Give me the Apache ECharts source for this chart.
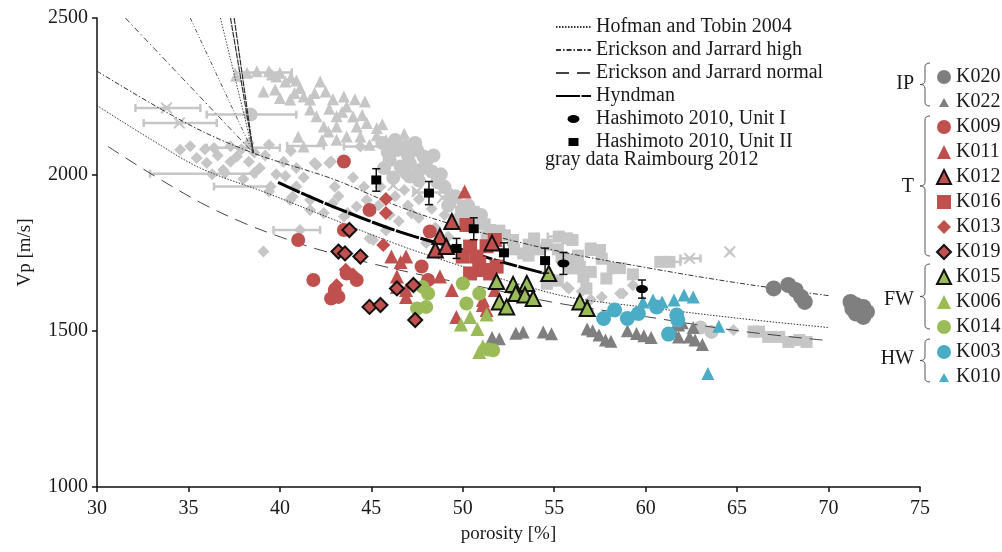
<!DOCTYPE html>
<html><head><meta charset="utf-8">
<script src="https://cdn.jsdelivr.net/npm/echarts@6/dist/echarts.min.js"></script>
<style>html,body{margin:0;padding:0;background:#fff}#c{width:1002px;height:552px}</style>
</head><body><div id="c"></div>
<script>
// ---------- axes ----------
const xRange = [30, 75, 5];
const yRange = [1000, 2500, 500];

// ---------- model curves ----------
const hofmanTobin = [[30,2220],[33,2110],[35.65,2020],[39.3,1940],[42.9,1856],[46.6,1772],[50,1705],[53,1650],[56,1605],[60,1575],[65,1540],[70,1510]];
const ericksonHigh = [[30,2330],[35,2160],[38.55,2068],[42.9,1985],[46.6,1895],[50,1830],[55,1757],[60,1702],[65,1653],[70,1612]];
const ericksonNormal = [[30.6,2089],[33,2000],[35.65,1910],[38,1845],[40.4,1792],[42.2,1758],[45,1715],[48,1675],[51,1640],[55,1590],[60,1545],[65,1500],[70,1468]];
const hyndman = [[39.9,1974],[42.9,1897],[46.6,1815],[50,1758],[52,1722],[55,1675]];
// low-porosity branches converging near 38.5 %
const branchA = [[31.55,2500],[38.55,2068]];
const branchB = [[35.1,2500],[38.55,2068]];
const branchC = [[36.75,2500],[38.55,2068]];
const branchD = [[37.3,2500],[38.55,2068]];
const branchE = [[37.5,2500],[38.55,2068]];

// ---------- Hashimoto 2010 ----------
const hashUnitI = [[55.5,1715],[59.8,1633]];
const hashUnitIErr = [35,29];
const hashUnitII = [[45.27,1982],[48.15,1940],[50.6,1826],[49.66,1763],[52.25,1749],[54.5,1724]];
const hashUnitIIErr = [36,37,35,32,32,40];

// ---------- gray data Raimbourg 2012 ----------
const grayTri = [[38.74,2330],[39.56,2319],[39.8,2313],[40.3,2297],[39.1,2265],[39.74,2271],[40.0,2244],[40.56,2239],[41.1,2276],[41.3,2249],[41.65,2239],[42.2,2297],[42.5,2265],[41.65,2207],[42.0,2186],[42.4,2153],[42.65,2137],[43.1,2186],[43.1,2153],[43.5,2249],[43.65,2217],[44.0,2185],[44.2,2153],[44.4,2121],[44.65,2233],[44.75,2164],[45.3,2148],[45.3,2125],[43.1,2111],[43.65,2121],[41.3,2089],[38.2,2325],[37.6,2315],[40.9,2300],[45.8,2110],[46.4,2090],[41.0,2120],[42.3,2110],[44.9,2095],[39.4,2330],[40.0,2325],[40.6,2310],[42.9,2240],[43.4,2200],[44.1,2240],[45.6,2160],[42.7,2210],[44.5,2190],[46.8,2130],[40.8,2260],[41.9,2260]];
const grayDia = [[34.55,2079],[35.45,2052],[36.0,2036],[36.4,2084],[36.9,2014],[37.65,2057],[37.0,2004],[37.9,2080],[38.3,2040],[38.6,2070],[38.9,2020],[39.2,2060],[39.5,1961],[39.4,1945],[39.8,2000],[40.2,2040],[40.6,2075],[40.9,2020],[41.3,1990],[37.3,2090],[38.0,1985],[36.6,2060],[35.9,2080],[40.56,1918],[40.9,1961],[41.65,1918],[42.0,2030],[42.7,2036],[41.9,2036],[42.8,2041],[42.4,1876],[42.9,1908],[43.5,1865],[43.7,1876],[44.2,1897],[44.75,1918],[44.9,1795],[45.1,1790],[39.1,1753],[40.7,1929],[41.65,1886],[43.0,1960],[44.0,1990],[45.5,1960],[46.3,1930],[47.0,1900],[47.6,1860],[46.5,1850],[45.8,1820],[44.4,2089],[48.5,1830],[49.2,1800],[48.0,1780],[55.8,1635],[57.6,1608],[58.6,1619],[64.8,1502],[41.1,1822],[38.6,2004],[46.8,1950],[47.6,1920],[48.3,1890],[49.0,1870],[47.2,1875],[55.7,1640],[56.5,1625],[58.75,1619],[59.3,1645],[57.0,1600],[44.6,1960],[45.4,1900],[46.0,1870],[43.2,1930],[38.3,2100],[39.4,2095],[37.3,2040],[40.3,1995],[36.3,2000],[35.1,2090]];
const grayCirc = [[46.0,2094],[46.4,2078],[46.9,2089],[47.5,2078],[47.85,2057],[47.1,2036],[47.65,2014],[48.3,2009],[46.0,2046],[46.6,2025],[47.1,1993],[49.0,1960],[49.6,1930],[50.3,1900],[48.6,1975],[49.2,1900],[51.0,1870],[50.0,1860],[38.4,2191],[63.6,1496],[63.0,1510],[45.6,2100],[45.9,2070],[46.3,2110],[47.0,2060],[47.4,2100],[48.0,2040],[48.4,2060],[45.7,2020],[46.2,1990],[48.8,2000],[47.6,1980],[46.9,2005]];
const graySq = [[49.4,1925],[50.0,1900],[50.6,1880],[51.0,1860],[49.8,1855],[51.3,1801],[52.0,1820],[52.75,1790],[53.3,1747],[53.6,1775],[54.2,1760],[55.7,1795],[55.25,1801],[57.0,1758],[57.5,1758],[56.0,1726],[56.4,1705],[55.84,1705],[56.0,1699],[56.6,1672],[57.0,1688],[57.85,1667],[56.76,1635],[55.2,1660],[54.6,1650],[61.3,1720],[60.8,1720],[65.9,1497],[66.2,1497],[66.7,1480],[67.3,1480],[67.8,1464],[68.4,1470],[68.8,1464],[58.6,1700],[59.3,1680],[49.3,1915],[49.9,1880],[50.4,1860],[51.2,1840],[51.5,1822],[52.3,1805],[52.8,1760],[53.6,1740],[53.9,1795],[54.6,1775],[55.2,1760],[56.0,1790],[57.0,1763],[56.3,1740],[55.4,1735],[57.6,1730],[58.2,1700]];
const grayX = [[33.8,2212],[34.5,2164],[62.4,1731],[64.6,1752],[47.5,1945],[48.9,1925],[46.2,1965],[50.1,1860],[52.0,1780]];
const grayHBars = [[32.1,35.65,2212],[32.55,36.55,2164],[36.0,40.9,2191],[37.55,40.65,2326],[32.9,38.7,2002],[36.4,39.5,1961],[40.4,42.4,2091],[43.5,46.0,2089],[39.65,42.2,1822],[36.0,40.0,2085],[47.3,49.4,1942],[54.65,55.85,1801],[60.8,61.9,1720],[61.9,63.0,1731]];

// ---------- samples ----------
const K020 = [[67.0,1635],[67.8,1646],[68.2,1630],[68.5,1608],[68.7,1592],[71.2,1592],[71.5,1582],[71.9,1576],[71.9,1544],[71.5,1555],[72.1,1560],[71.3,1570]];
const K022 = [[51.6,1478],[52.0,1474],[52.9,1492],[53.3,1496],[54.4,1496],[54.85,1490],[56.8,1505],[57.1,1500],[57.45,1486],[57.8,1470],[58.1,1466],[59.0,1500],[59.5,1491],[59.9,1484],[60.3,1478],[61.8,1518],[61.8,1480],[62.0,1525],[62.4,1480],[62.6,1510],[62.7,1470],[63.1,1456],[61.5,1498]];
const K009 = [[43.5,2041],[44.9,1886],[48.2,1817],[41.0,1790],[43.5,1822],[41.83,1662],[42.8,1603],[44.2,1662],[43.65,1683],[47.75,1705],[48.1,1662],[43.0,1630],[43.2,1608]];
const K011 = [[50.1,1945],[46.1,1737],[46.6,1720],[46.9,1737],[46.4,1673],[46.4,1640],[46.9,1630],[46.9,1608],[48.75,1673],[49.4,1630],[49.65,1544],[51.1,1582],[51.75,1630],[51.1,1598],[51.3,1566]];
const K012 = [[49.4,1849],[48.75,1801],[48.5,1758],[49.1,1769],[51.6,1780]];
const K016 = [[50.2,1838],[51.75,1790],[50.4,1769],[50.75,1737],[50.4,1683],[51.1,1694],[51.5,1683],[51.85,1705],[50.0,1737],[50.9,1715],[51.3,1770]];
const K013 = [[45.8,1921],[45.8,1876],[45.65,1774],[43.6,1695],[44.0,1680],[43.1,1645]];
const K019 = [[43.8,1822],[43.2,1753],[43.56,1747],[44.4,1737],[46.4,1635],[47.3,1646],[44.9,1576],[45.5,1582],[47.4,1534]];
const K015 = [[51.85,1657],[52.75,1648],[53.5,1651],[52.9,1619],[53.4,1614],[53.85,1603],[52.0,1592],[52.4,1576],[54.7,1683],[56.4,1592],[56.8,1571]];
const K006 = [[50.4,1544],[51.3,1552],[50.8,1505],[51.1,1450],[50.9,1432],[49.9,1520]];
const K014 = [[47.8,1640],[48.1,1619],[47.5,1571],[48.0,1576],[50.0,1651],[50.9,1619],[50.2,1587],[51.66,1437],[51.4,1440]];
const K003 = [[57.7,1539],[58.3,1566],[59.0,1539],[59.6,1555],[60.6,1576],[61.7,1550],[61.76,1534],[61.25,1489]];
const K010 = [[59.85,1592],[60.4,1598],[60.9,1592],[61.55,1598],[62.1,1614],[62.6,1608],[64.0,1514],[63.4,1363]];

const groupLabels = ['IP','T','FW','HW'];

// ---------- styling ----------
const FONT = "'Liberation Serif','Times New Roman',serif";
const TXT = '#1a1a1a';
const RED = '#c0504d', GREEN = '#9bbb59', BLUE = '#4bacc6', DGRAY = '#7f7f7f', LGRAY = '#c6c6c6';
const XPATH = 'path://M1,0 L5,3.5 L9,0 L10,1 L6.5,5 L10,9 L9,10 L5,6.5 L1,10 L0,9 L3.5,5 L0,1 Z';

function lineSeries(name, data, color, width, type, z) {
  return { name, type: 'line', data, symbol: 'none', smooth: data.length > 2 ? 0.35 : false,
    lineStyle: { color, width, type }, itemStyle: { color }, z, silent: true, clip: true };
}
function scat(name, data, symbol, size, color, border, z) {
  return { name, type: 'scatter', data, symbol, symbolSize: size, z,
    itemStyle: { color, opacity: 1, borderColor: border ? '#111' : color, borderWidth: border ? 2 : 0 } };
}
function hBarItem(params, api) {
  const a = api.coord([api.value(0), api.value(2)]);
  const b = api.coord([api.value(1), api.value(2)]);
  const st = { stroke: LGRAY, lineWidth: 2.5 };
  return { type: 'group', children: [
    { type: 'line', shape: { x1: a[0], y1: a[1], x2: b[0], y2: b[1] }, style: st },
    { type: 'line', shape: { x1: a[0], y1: a[1]-4, x2: a[0], y2: a[1]+4 }, style: st },
    { type: 'line', shape: { x1: b[0], y1: b[1]-4, x2: b[0], y2: b[1]+4 }, style: st }
  ]};
}
function vBarItem(params, api) {
  const a = api.coord([api.value(0), api.value(1)]);
  const b = api.coord([api.value(0), api.value(2)]);
  const st = { stroke: '#111', lineWidth: 1.5 };
  return { type: 'group', children: [
    { type: 'line', shape: { x1: a[0], y1: a[1], x2: b[0], y2: b[1] }, style: st },
    { type: 'line', shape: { x1: a[0]-4, y1: a[1], x2: a[0]+4, y2: a[1] }, style: st },
    { type: 'line', shape: { x1: b[0]-4, y1: b[1], x2: b[0]+4, y2: b[1] }, style: st }
  ]};
}
const vBars = hashUnitI.map((p,i)=>[p[0], p[1]-hashUnitIErr[i], p[1]+hashUnitIErr[i]])
  .concat(hashUnitII.map((p,i)=>[p[0], p[1]-hashUnitIIErr[i], p[1]+hashUnitIIErr[i]]));

// curly brace built from graphic primitives (layout only)
function brace(x, y1, y2) {
  const ym = (y1 + y2) / 2, r = 4;
  const st = { stroke: '#555', lineWidth: 1, fill: null };
  const bz = (a, b, c) => ({ type: 'bezierCurve', shape: { x1: a[0], y1: a[1], cpx1: b[0], cpy1: b[1], x2: c[0], y2: c[1] }, style: st });
  const ln = (a, b) => ({ type: 'line', shape: { x1: a[0], y1: a[1], x2: b[0], y2: b[1] }, style: st });
  return { type: 'group', children: [
    bz([x+5,y1],[x,y1],[x,y1+r]), ln([x,y1+r],[x,ym-r]),
    bz([x,ym-r],[x,ym],[x-5,ym]), bz([x-5,ym],[x,ym],[x,ym+r]),
    ln([x,ym+r],[x,y2-r]), bz([x,y2-r],[x,y2],[x+5,y2])
  ]};
}
const braceSpecs = [[63,106,85],[116,256,188],[264,329,301],[339,382,360]];

const series = [
  { type: 'custom', name: 'grayBars', renderItem: hBarItem, data: grayHBars, z: 1, silent: true },
  scat('gTri', grayTri, 'triangle', 12, LGRAY, false, 1),
  scat('gDia', grayDia, 'diamond', 12, LGRAY, false, 1),
  scat('gCirc', grayCirc, 'circle', 14, LGRAY, false, 1),
  scat('gSq', graySq, 'rect', 12, LGRAY, false, 1),
  scat('gX', grayX, XPATH, 12, LGRAY, false, 1),
  lineSeries('Hofman and Tobin 2004', hofmanTobin, '#333', 1, [1.5,1.5], 3),
  lineSeries('Erickson and Jarrard high', ericksonHigh, '#333', 1, [5,2,1.5,2], 3),
  lineSeries('Erickson and Jarrard normal', ericksonNormal, '#444', 1, [13,8], 3),
  lineSeries('Hyndman', hyndman, '#000', 3, [24,1.5], 3),
  lineSeries('bA', branchA, '#444', 1, [6,3,1.5,3], 3),
  lineSeries('bB', branchB, '#555', 1, [4,2,1,2,1,2], 3),
  lineSeries('bC', branchC, '#444', 1, [1.5,1.5], 3),
  lineSeries('bD', branchD, '#333', 1.2, [6,1], 3),
  lineSeries('bE', branchE, '#333', 1.2, [6,1], 3),
  scat('K022', K022, 'triangle', 13, DGRAY, false, 4),
  scat('K020', K020, 'circle', 16, DGRAY, false, 4),
  scat('K009', K009, 'circle', 14, RED, false, 4),
  scat('K011', K011, 'triangle', 14, RED, false, 4),
  scat('K016', K016, 'rect', 14, RED, false, 4),
  scat('K013', K013, 'diamond', 14, RED, false, 4),
  scat('K012', K012, 'triangle', 15, RED, true, 5),
  scat('K019', K019, 'diamond', 14, RED, true, 5),
  scat('K006', K006, 'triangle', 14, GREEN, false, 4),
  scat('K014', K014, 'circle', 14, GREEN, false, 4),
  scat('K015', K015, 'triangle', 15, GREEN, true, 5),
  scat('K003', K003, 'circle', 15, BLUE, false, 4),
  scat('K010', K010, 'triangle', 13, BLUE, false, 4),
  { type: 'custom', name: 'hashBars', renderItem: vBarItem, data: vBars, z: 6, silent: true },
  scat('Hashimoto 2010, Unit I', hashUnitI, 'circle', [12,8], '#000', false, 7),
  scat('Hashimoto 2010, Unit II', hashUnitII, 'rect', [10,9], '#000', false, 7)
];

const legendText = { fontFamily: FONT, fontSize: 20, color: TXT, lineHeight: 20 };
const noSym = { color: 'rgba(0,0,0,0)', borderColor: 'rgba(0,0,0,0)', borderWidth: 0 };
const chart = echarts.init(document.getElementById('c'), null, { renderer: 'canvas' });
chart.setOption({
  animation: false,
  backgroundColor: '#fff',
  grid: { left: 97, right: 82, top: 18, bottom: 65 },
  xAxis: {
    type: 'value', min: xRange[0], max: xRange[1], interval: xRange[2],
    name: 'porosity [%]', nameLocation: 'middle', nameGap: 38,
    nameTextStyle: { fontFamily: FONT, fontSize: 19, color: TXT },
    axisLine: { lineStyle: { color: '#111', width: 1.5 } },
    axisTick: { show: true, length: 5, lineStyle: { color: '#111', width: 1.5 } },
    axisLabel: { fontFamily: FONT, fontSize: 20, color: TXT, margin: 12, formatter: v => String(v) },
    splitLine: { show: false }
  },
  yAxis: {
    type: 'value', min: yRange[0], max: yRange[1], interval: yRange[2],
    name: 'Vp [m/s]', nameLocation: 'middle', nameGap: 62, nameRotate: 90,
    nameTextStyle: { fontFamily: FONT, fontSize: 19, color: TXT },
    axisLine: { lineStyle: { color: '#111', width: 1.5 } },
    axisTick: { show: true, length: 5, lineStyle: { color: '#111', width: 1.5 } },
    axisLabel: { fontFamily: FONT, fontSize: 20, color: TXT, margin: 9, formatter: v => String(v) },
    splitLine: { show: false }
  },
  legend: [
    { orient: 'vertical', left: 550, top: 12, itemWidth: 35, itemHeight: 14, itemGap: 3,
      selectedMode: false, textStyle: legendText,
      data: [
        { name: 'Hofman and Tobin 2004', itemStyle: noSym },
        { name: 'Erickson and Jarrard high', itemStyle: noSym },
        { name: 'Erickson and Jarrard normal', itemStyle: noSym },
        { name: 'Hyndman', itemStyle: noSym },
        { name: 'Hashimoto 2010, Unit I', icon: 'path://M0,0 M35,14 M11.5,7 A6,4 0 1 1 23.5,7 A6,4 0 1 1 11.5,7 Z' },
        { name: 'Hashimoto 2010, Unit II', icon: 'path://M0,0 M35,14 M12.5,3 L22.5,3 L22.5,11 L12.5,11 Z' }
      ] },
    { orient: 'vertical', left: 931, top: 62, itemWidth: 14, itemHeight: 14, itemGap: 5,
      selectedMode: false, textStyle: legendText,
      data: [
        { name: 'K020' },
        { name: 'K022', icon: 'path://M0,0 M14,14 M2,12 L7,3 L12,12 Z' },
        { name: 'K009' }, { name: 'K011' }, { name: 'K012' }, { name: 'K016' },
        { name: 'K013' }, { name: 'K019' }, { name: 'K015' }, { name: 'K006' },
        { name: 'K014' }, { name: 'K003' },
        { name: 'K010', icon: 'path://M0,0 M14,14 M2,12 L7,3 L12,12 Z' }
      ] }
  ],
  graphic: [
    { type: 'text', left: 545, top: 150, style: { text: 'gray data Raimbourg 2012', font: `20px ${FONT}`, fill: TXT } },
    ...braceSpecs.map(b => brace(925, b[0], b[1])),
    ...braceSpecs.map((b, i) => ({
      type: 'text', right: 1002 - 914, top: b[2] - 11,
      style: { text: groupLabels[i], font: `20px ${FONT}`, fill: TXT }
    }))
  ],
  series
});
</script></body></html>
